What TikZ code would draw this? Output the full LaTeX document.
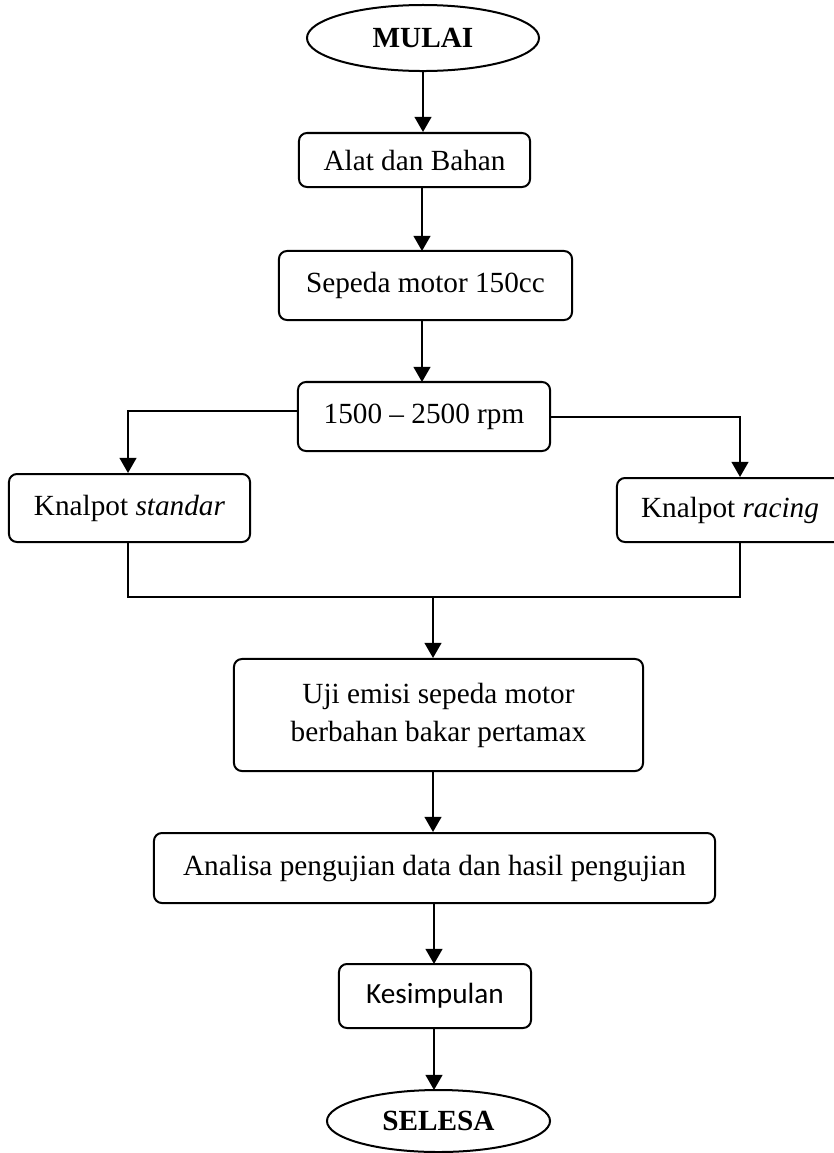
\documentclass[tikz,border=0pt]{standalone}
\usepackage{fontspec}
\setmainfont{Liberation Serif}
\newfontfamily\carlito{Carlito}
\usetikzlibrary{shapes.geometric}
\usetikzlibrary{arrows.meta}

\begin{document}
\begin{tikzpicture}[x=0.025cm,y=-0.025cm,
  font=\fontsize{20.8}{27}\selectfont,
  proses/.style={draw,rounded corners=0.2cm,line width=0.05cm,align=center,inner sep=0pt},
  terminal/.style={draw,ellipse,line width=0.05cm,inner sep=0pt,font=\fontsize{20.8}{25}\selectfont\bfseries},
  panah/.style={-{Triangle[length=0.38cm,width=0.42cm]},line width=0.055cm},
  garis/.style={line width=0.045cm}]
\useasboundingbox (0,0) rectangle (834,1153);
\node[terminal,minimum width=5.8cm,minimum height=1.65cm] (mulai) at (423,38) {MULAI};
\node[proses,minimum width=5.775cm,minimum height=1.35cm] (alat) at (414.5,160) {Alat dan Bahan};
\node[proses,minimum width=7.325cm,minimum height=1.725cm] (sepeda) at (425.5,285.5) {Sepeda motor 150cc};
\node[proses,minimum width=6.3cm,minimum height=1.725cm] (rpm) at (424,416.5) {1500 -- 2500 rpm};
\node[proses,minimum width=6.025cm,minimum height=1.7cm] (standar) at (129.5,508) {Knalpot \textit{standar}};
\node[proses,minimum width=5.65cm,minimum height=1.6cm] (racing) at (730,510) {Knalpot \textit{racing}};
\node[proses,minimum width=10.225cm,minimum height=2.8cm] (uji) at (438.5,715) {Uji emisi sepeda motor\\berbahan bakar pertamax};
\node[proses,minimum width=14.025cm,minimum height=1.75cm] (analisa) at (434.5,868) {Analisa pengujian data dan hasil pengujian};
\node[proses,minimum width=4.8cm,minimum height=1.6cm,font=\fontsize{20.8}{25}\carlito] (kesimpulan) at (435,996) {Kesimpulan};
\node[terminal,minimum width=5.575cm,minimum height=1.55cm] (selesa) at (438.5,1121) {SELESA};
\coordinate (jl) at (128,597);
\coordinate (jm) at (433,597);
\coordinate (jr) at (740,597);
% alur utama
\draw[panah] (mulai.south) -- (mulai.south |- alat.north);
\draw[panah] (422,187) -- (422,251);
\draw[panah] (422,320) -- (422,382);
% cabang knalpot
\draw[panah] ([yshift=0.14cm]rpm.west) -| (jl |- standar.north);
\draw[panah] ([yshift=-0.01cm]rpm.east) -| (jr |- racing.north);
\draw[garis] (jl |- standar.south) -- (jl) -- (jr) -- (jr |- racing.south);
\draw[panah] (jm) -- (jm |- uji.north);
\draw[panah] (jm |- uji.south) -- (jm |- analisa.north);
\draw[panah] (434,903) -- (434,964);
\draw[panah] (434,1028) -- (434,1090);
\end{tikzpicture}
\end{document}
